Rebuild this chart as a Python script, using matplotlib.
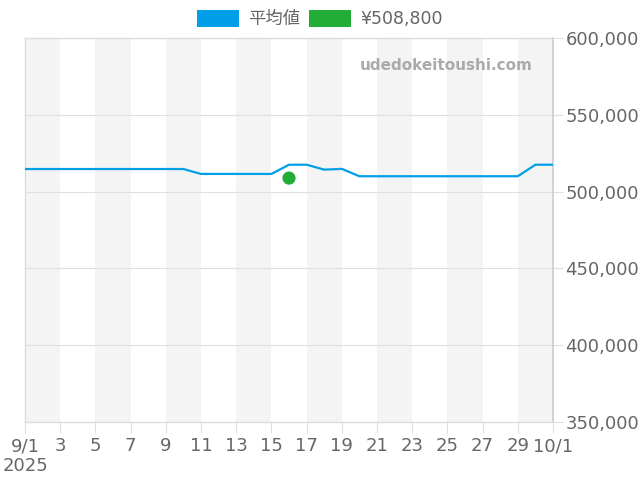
import matplotlib
matplotlib.use("Agg")
import matplotlib.pyplot as plt
from matplotlib.patches import Patch
import numpy as np

days = list(range(0, 31))
avg_values = [514700]*10 + [511500]*5 + [517500, 517500, 514300, 514800] + [510000]*10 + [517500, 517500]
point_day = 15
point_value = 508800
tick_days = [0, 2, 4, 6, 8, 10, 12, 14, 16, 18, 20, 22, 24, 26, 28, 30]
tick_labels = ["9/1", "3", "5", "7", "9", "11", "13", "15", "17", "19", "21", "23", "25", "27", "29", "10/1"]
y_ticks = [350000, 400000, 450000, 500000, 550000, 600000]
legend_labels = ["平均値", "¥508,800"]

plt.rcParams['font.family'] = ['DejaVu Sans', 'Noto Sans CJK JP']

fig = plt.figure(figsize=(6.4, 4.8), dpi=100)
ax = fig.add_axes([25/640, 1-422/480, (553-25)/640, (422-38)/480])

blue = "#009FE8"
green = "#22AC38"
txt = "#666666"

for s in range(0, 30, 4):
    ax.axvspan(s, s+2, color="#f4f4f4", lw=0, zorder=0)

for y in y_ticks:
    ax.axhline(y, color="#e0e0e0", lw=0.8, zorder=1)

ax.plot(days, avg_values, color=blue, lw=1.6, zorder=3)
ax.scatter([point_day], [point_value], s=90, color=green, zorder=4, edgecolors="none")

ax.set_xlim(0, 30)
ax.set_ylim(350000, 600000)
ax.set_xticks(tick_days)
ax.set_xticklabels(tick_labels)
ax.set_yticks(y_ticks)
ax.set_yticklabels([f"{v:,}" for v in y_ticks])
ax.yaxis.tick_right()
ax.tick_params(axis="y", length=7, color="#e0e0e0", labelcolor=txt, labelsize=13, pad=2)
ax.tick_params(axis="x", length=8, color="#e0e0e0", labelcolor=txt, labelsize=13, pad=3)

for side in ["left", "top", "bottom"]:
    ax.spines[side].set_color("#dddddd")
    ax.spines[side].set_linewidth(1)
ax.spines["right"].set_color("#cccccc")
ax.spines["right"].set_linewidth(1.2)

fig.text(3/640, 1-466/480, "2025", color=txt, fontsize=13, va="center", ha="left")

ax.text(0.962, 0.928, "udedokeitoushi.com", transform=ax.transAxes, ha="right", va="center",
        fontsize=11, fontweight="bold", color="#aaaaaa")

handles = [Patch(facecolor=blue, edgecolor="none"), Patch(facecolor=green, edgecolor="none")]
fig.legend(handles, legend_labels, loc="center", bbox_to_anchor=(320/640, 1-19/480), ncol=2,
           frameon=False, handlelength=2.4, handleheight=1.1, handletextpad=0.55,
           columnspacing=0.5, labelcolor=txt, prop={'family': ['DejaVu Sans', 'Noto Sans CJK JP'], 'size': 12.5})

fig.savefig("out.png", dpi=100)
